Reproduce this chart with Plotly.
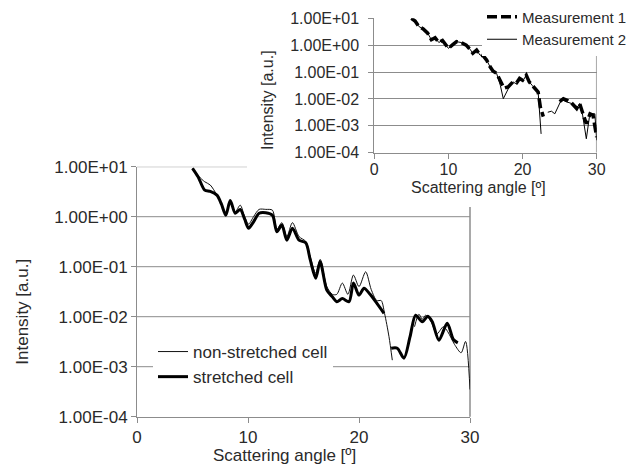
import plotly.graph_objects as go

W, H = 626, 466

# ---------------- data: main chart ----------------
main_x_stretched = [5.0, 5.5, 6.1, 6.6, 7.2, 7.6, 8.0, 8.4, 8.85, 9.3, 9.7, 10.05, 10.5, 11.0, 11.6, 12.2,
                    12.6, 13.05, 13.5, 14.0, 14.6, 15.2, 15.6, 16.1, 16.5, 17.1, 17.6, 18.0, 18.5, 19.1,
                    19.5, 20.0, 20.45, 21.0, 21.5, 22.25, None,
                    22.9, 23.45, 24.05, 24.6, 25.1, 25.7, 26.2, 26.6, 27.2, 27.95, 28.5, 28.9]
main_y_stretched = [9.3, 6.3, 3.4, 3.2, 2.7, 1.8, 1.07, 2.1, 1.17, 1.4, 0.89, 0.59, 0.79, 1.17, 1.2, 1.07,
                    0.5, 0.68, 0.34, 0.59, 0.34, 0.3, 0.14, 0.059, 0.126, 0.034, 0.025, 0.02, 0.023, 0.02,
                    0.047, 0.027, 0.037, 0.028, 0.02, 0.0117, None,
                    0.00234, 0.00234, 0.00148, 0.004, 0.0107, 0.0079, 0.0102, 0.0079, 0.0034, 0.0074, 0.0035, 0.0030]

main_x_nonstretched = [5.0, 5.6, 6.1, 6.6, 7.2, 7.6, 8.0, 8.4, 8.85, 9.3, 9.7, 10.05, 10.5, 11.0, 11.6, 12.2,
                       12.6, 13.05, 13.5, 14.0, 14.6, 15.2, 15.6, 16.1, 16.5, 17.1, 17.6, 18.0, 18.5, 19.0,
                       19.5, 20.0, 20.6, 21.1, 21.6, 22.0, 22.3, 22.7, 23.0, None,
                       25.0, 25.4, 25.7, 26.0, 26.5, 27.0, 27.6, 28.0, 28.6, 29.2, 29.6, 30.0]
main_y_nonstretched = [9.3, 6.3, 5.0, 4.3, 2.7, 1.8, 1.12, 2.0, 1.26, 1.7, 1.0, 0.71, 1.0, 1.4, 1.4, 1.35,
                       0.56, 0.76, 0.4, 0.76, 0.4, 0.32, 0.16, 0.074, 0.14, 0.04, 0.028, 0.028, 0.047, 0.028,
                       0.068, 0.04, 0.079, 0.035, 0.021, 0.021, 0.0117, 0.004, 0.00135, None,
                       0.0063, 0.0112, 0.0089, 0.0107, 0.0079, 0.0045, 0.0063, 0.005, 0.0028, 0.0019, 0.0032, 0.00035]

# ---------------- data: inset chart ----------------
ins_x_m1 = [5.0, 5.5, 6.0, 6.6, 7.2, 7.7, 8.2, 8.7, 9.2, 9.6, 10.0, 10.5, 11.1, 11.7, 12.4, 12.9, 13.3,
            13.8, 14.25, 14.7, 15.15, 15.6, 16.0, 16.5, 17.0, 17.5, 18.05, 18.7, 19.2, 19.6, 20.0, 20.5,
            20.9, 21.3, 21.65, 22.1, 22.4, 22.8, None,
            25.0, 25.5, 26.0, 26.6, 27.3, 27.7, 28.2, 28.6, 29.1, 29.5, 30.0]
ins_y_m1 = [10, 7.9, 5.0, 4.0, 2.8, 1.6, 1.9, 1.26, 1.5, 1.12, 0.76, 1.0, 1.35, 1.26, 1.0, 0.71, 0.5,
            0.66, 0.43, 0.4, 0.28, 0.16, 0.11, 0.089, 0.05, 0.025, 0.028, 0.043, 0.04, 0.058, 0.05, 0.076,
            0.043, 0.032, 0.025, 0.018, 0.005, 0.0022, None,
            0.008, 0.0102, 0.0089, 0.0071, 0.0044, 0.0068, 0.0025, 0.0012, 0.0028, 0.0025, 0.00038]

ins_x_m2 = [5.0, 5.5, 6.0, 6.6, 7.2, 7.7, 8.2, 8.7, 9.2, 9.6, 10.0, 10.5, 11.1, 11.7, 12.4, 12.9, 13.3,
            13.8, 14.25, 14.7, 15.15, 15.6, 16.0, 16.5, 17.0, 17.4, 18.3, 18.7, 19.2, 19.6, 20.0, 20.5,
            20.9, 21.3, 21.65, 22.1, 22.5, None,
            23.4, 23.9, 24.35, 24.8, 25.25, 25.9, 26.6, 27.3, 27.7, 28.1, 28.6, 29.0, 29.3, 29.75, 30.0]
ins_y_m2 = [10, 7.9, 5.0, 4.0, 2.8, 1.6, 1.9, 1.26, 1.5, 1.12, 0.76, 1.0, 1.35, 1.26, 1.0, 0.71, 0.5,
            0.66, 0.43, 0.4, 0.28, 0.16, 0.11, 0.089, 0.032, 0.0102, 0.032, 0.043, 0.036, 0.058, 0.045, 0.076,
            0.043, 0.032, 0.025, 0.018, 0.0005, None,
            0.0032, 0.0035, 0.0028, 0.0056, 0.0095, 0.0078, 0.0068, 0.0044, 0.0068, 0.0025, 0.00033, 0.002,
            0.0028, 0.0028, 0.00029]

x_ticks = [0, 10, 20, 30]
y_ticks = [10, 1, 0.1, 0.01, 0.001, 0.0001]
y_ticktext = ["1.00E+01", "1.00E+00", "1.00E-01", "1.00E-02", "1.00E-03", "1.00E-04"]

# ---------------- layout geometry (pixels) ----------------
MAIN_L, MAIN_R, MAIN_T, MAIN_B = 137, 470, 166.7, 416.7
INS_L, INS_R, INS_T, INS_B = 374.3, 596.7, 18.3, 152.7
INSET_BOX_L, INSET_BOX_B = 247, 207

def fx(p):
    return p / W

def fy(p):
    return 1 - p / H

FONT = "Liberation Sans, Arial, sans-serif"
TXT = "#2a2a2a"
GRID = "#8c8c8c"

fig = go.Figure()

fig.add_trace(go.Scatter(x=main_x_nonstretched, y=main_y_nonstretched, name="non-stretched cell",
                         mode="lines", line=dict(color="#111", width=1, shape="spline", smoothing=0.8),
                         xaxis="x", yaxis="y", legend="legend", legendgroup="a", connectgaps=False))
fig.add_trace(go.Scatter(x=main_x_stretched, y=main_y_stretched, name="stretched cell",
                         mode="lines", line=dict(color="#000", width=3, shape="spline", smoothing=0.8),
                         xaxis="x", yaxis="y", legend="legend", legendgroup="b", connectgaps=False))

fig.add_trace(go.Scatter(x=ins_x_m1, y=ins_y_m1, name="Measurement 1", mode="lines",
                         line=dict(color="#000", width=3.5, dash="10px,4px"),
                         xaxis="x2", yaxis="y2", legend="legend2", legendgroup="c", connectgaps=False))
fig.add_trace(go.Scatter(x=ins_x_m2, y=ins_y_m2, name="Measurement 2", mode="lines",
                         line=dict(color="#000", width=1),
                         xaxis="x2", yaxis="y2", legend="legend2", legendgroup="d", connectgaps=False))

axis_common = dict(showline=True, linecolor=GRID, linewidth=1, ticks="outside", ticklen=5,
                   tickcolor=GRID, tickwidth=1, zeroline=False, color=TXT, automargin=False)

shapes = []
# main gridlines (drawn as shapes so the inset box can interrupt the top one)
for v in y_ticks[1:-1]:
    shapes.append(dict(type="line", xref="paper", yref="y", x0=fx(MAIN_L), x1=fx(MAIN_R), y0=v, y1=v,
                       line=dict(color=GRID, width=1), layer="below"))
shapes.append(dict(type="line", xref="paper", yref="y", x0=fx(MAIN_L), x1=fx(INSET_BOX_L),
                   y0=y_ticks[0], y1=y_ticks[0], line=dict(color=GRID, width=1), layer="below"))
# main right border (below inset box)
shapes.append(dict(type="line", xref="paper", yref="paper", x0=fx(MAIN_R), x1=fx(MAIN_R),
                   y0=fy(MAIN_B), y1=fy(INSET_BOX_B), line=dict(color=GRID, width=1.5), layer="below"))
# inset right border
shapes.append(dict(type="line", xref="x2", yref="y2", x0=30, x1=30, y0=y_ticks[-1], y1=y_ticks[0],
                   line=dict(color=GRID, width=1.5), layer="below"))

fig.update_layout(
    width=W, height=H, margin=dict(l=0, r=0, t=0, b=0, autoexpand=False),
    paper_bgcolor="white", plot_bgcolor="white",
    font=dict(family=FONT, color=TXT),
    xaxis=dict(domain=[fx(MAIN_L), fx(MAIN_R)], range=[0, 30], tickvals=x_ticks, showgrid=False,
               anchor="y", tickfont=dict(size=17), **axis_common),
    yaxis=dict(domain=[fy(MAIN_B), fy(MAIN_T)], type="log", range=[-4, 1], tickvals=y_ticks,
               ticktext=y_ticktext, showgrid=False, anchor="x", tickfont=dict(size=17), **axis_common),
    xaxis2=dict(domain=[fx(INS_L), fx(INS_R)], range=[0, 30], tickvals=x_ticks, showgrid=False,
                anchor="y2", tickfont=dict(size=16), ticklabelstandoff=-3, **axis_common),
    yaxis2=dict(domain=[fy(INS_B), fy(INS_T)], type="log", range=[-4, 1], tickvals=y_ticks,
                ticktext=y_ticktext, showgrid=True, gridcolor=GRID, gridwidth=1, anchor="x2",
                tickfont=dict(size=16), ticklabelstandoff=6, **axis_common),
    legend=dict(x=fx(153), y=fy(334), xanchor="left", yanchor="top", bgcolor="white",
                font=dict(size=17, color=TXT), tracegroupgap=3, borderwidth=0, traceorder="normal"),
    legend2=dict(x=fx(482), y=fy(0.5), xanchor="left", yanchor="top", bgcolor="white",
                 font=dict(size=15, color=TXT), tracegroupgap=0, borderwidth=0, traceorder="normal"),
    shapes=shapes,
    annotations=[
        dict(text="Intensity [a.u.]", xref="paper", yref="paper", x=fx(21.7), y=fy(312), textangle=-90,
             showarrow=False, font=dict(size=17, color=TXT), xanchor="center", yanchor="middle"),
        dict(text="Scattering angle [º]", xref="paper", yref="paper", x=fx(284), y=fy(455),
             showarrow=False, font=dict(size=17, color=TXT), xanchor="center", yanchor="middle"),
        dict(text="Intensity [a.u.]", xref="paper", yref="paper", x=fx(267), y=fy(100), textangle=-90,
             showarrow=False, font=dict(size=16, color=TXT), xanchor="center", yanchor="middle"),
        dict(text="Scattering angle [º]", xref="paper", yref="paper", x=fx(478), y=fy(188),
             showarrow=False, font=dict(size=16, color=TXT), xanchor="center", yanchor="middle"),
    ],
    showlegend=True,
)

fig.write_html("out.html")
